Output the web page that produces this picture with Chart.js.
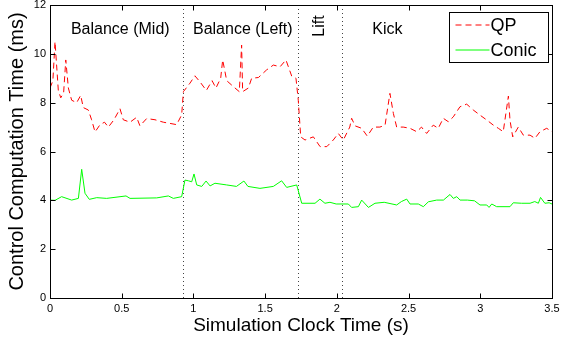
<!DOCTYPE html>
<html>
<head>
<meta charset="utf-8">
<script src="https://cdn.jsdelivr.net/npm/chart.js@4"></script>
<style>
  body { margin: 0; background: #fff; }
  #wrap { width: 561px; height: 339px; }
</style>
</head>
<body>
<div id="wrap"><canvas id="grafico"></canvas></div>
<script>
// QP solver timing (ms) against simulation clock time (s)
const qpTime = [0, 0.02, 0.035, 0.058, 0.075, 0.095, 0.11, 0.128, 0.151, 0.186, 0.214, 0.232, 0.267, 0.29, 0.314, 0.349, 0.38, 0.407, 0.446, 0.488, 0.511, 0.558, 0.604, 0.627, 0.674, 0.732, 0.79, 0.837, 0.883, 0.918, 0.93, 0.976, 1.01, 1.046, 1.09, 1.13, 1.157, 1.19, 1.204, 1.232, 1.28, 1.32, 1.336, 1.343, 1.383, 1.406, 1.453, 1.51, 1.557, 1.604, 1.645, 1.662, 1.685, 1.715, 1.731, 1.748, 1.778, 1.836, 1.883, 1.93, 1.975, 2.01, 2.045, 2.09, 2.103, 2.127, 2.173, 2.212, 2.254, 2.3, 2.336, 2.37, 2.394, 2.417, 2.463, 2.51, 2.557, 2.59, 2.626, 2.672, 2.707, 2.742, 2.777, 2.812, 2.858, 2.905, 2.951, 2.998, 3.045, 3.091, 3.126, 3.16, 3.196, 3.207, 3.226, 3.265, 3.3, 3.347, 3.381, 3.416, 3.463, 3.5];
const qpMs = [8.6, 8.9, 10.5, 8.5, 8.2, 8.4, 9.75, 8.6, 8.1, 8.0, 8.3, 7.8, 7.7, 7.3, 6.8, 7.1, 7.2, 7.0, 7.3, 7.75, 7.3, 7.2, 7.4, 7.05, 7.35, 7.3, 7.2, 7.15, 7.1, 7.5, 8.45, 8.8, 9.1, 8.85, 8.5, 8.9, 8.6, 9.0, 9.75, 8.9, 8.65, 8.45, 10.36, 8.45, 8.6, 9.0, 9.03, 9.34, 9.54, 9.47, 9.75, 9.47, 9.09, 9.0, 8.1, 6.6, 6.47, 6.6, 6.2, 6.2, 6.47, 6.74, 6.47, 7.0, 7.36, 7.05, 6.95, 6.63, 7.0, 7.0, 7.08, 8.38, 7.56, 7.0, 7.0, 6.95, 6.81, 7.0, 6.74, 7.08, 6.95, 7.36, 7.22, 7.42, 7.83, 7.94, 7.7, 7.49, 7.29, 7.08, 6.95, 6.81, 8.27, 7.29, 6.6, 7.0, 6.67, 6.67, 6.54, 6.81, 6.95, 6.81];

// Conic solver timing (ms)
const conicTime = [0, 0.035, 0.081, 0.151, 0.198, 0.221, 0.244, 0.274, 0.326, 0.395, 0.53, 0.558, 0.744, 0.825, 0.86, 0.918, 0.941, 0.965, 0.988, 1.004, 1.023, 1.058, 1.088, 1.116, 1.15, 1.232, 1.3, 1.352, 1.38, 1.464, 1.557, 1.615, 1.65, 1.72, 1.755, 1.848, 1.882, 1.917, 1.952, 1.995, 2.08, 2.103, 2.15, 2.173, 2.22, 2.266, 2.33, 2.417, 2.45, 2.487, 2.51, 2.568, 2.603, 2.638, 2.696, 2.743, 2.789, 2.812, 2.836, 2.859, 2.91, 2.96, 2.998, 3.045, 3.061, 3.08, 3.114, 3.207, 3.23, 3.288, 3.347, 3.38, 3.405, 3.42, 3.45, 3.48, 3.5];
const conicMs = [4.01, 4.0, 4.15, 4.01, 4.08, 5.27, 4.29, 4.04, 4.11, 4.08, 4.18, 4.08, 4.1, 4.18, 4.08, 4.15, 4.83, 4.8, 4.76, 5.08, 4.63, 4.57, 4.79, 4.59, 4.7, 4.63, 4.57, 4.79, 4.57, 4.49, 4.57, 4.8, 4.53, 4.63, 3.88, 3.88, 4.05, 3.88, 3.92, 3.85, 3.85, 3.71, 3.74, 4.01, 3.71, 3.88, 3.92, 3.81, 3.95, 4.05, 3.85, 3.85, 3.74, 3.94, 4.01, 4.01, 4.24, 4.08, 4.15, 4.01, 4.01, 3.98, 3.81, 3.81, 3.71, 3.85, 3.74, 3.74, 3.9, 3.88, 3.88, 3.95, 3.88, 4.12, 3.88, 3.9, 3.85];

// phases of the motion
const phaseBounds = [0.925, 1.727, 2.036];
const phaseNames = ['Balance (Mid)', 'Balance (Left)', 'Lift', 'Kick'];
const phaseLabelTimes = [0.49, 1.344, 1.88, 2.353];

const xTicks = [0, 0.5, 1, 1.5, 2, 2.5, 3, 3.5];
const yTicks = [0, 2, 4, 6, 8, 10, 12];

const FONT = "'Liberation Sans', Arial, sans-serif";

function pts(xs, ys) {
  return xs.map((x, i) => ({ x: x, y: ys[i] }));
}

// matlab style box, inner ticks, phase markers and legend
const matlabLook = {
  id: 'matlabLook',
  beforeDatasetsDraw(chart) {
    const { ctx, chartArea: a, scales: { x } } = chart;
    ctx.save();
    ctx.strokeStyle = '#444';
    ctx.lineWidth = 1;
    ctx.setLineDash([1, 3]);
    phaseBounds.forEach(t => {
      const px = Math.round(x.getPixelForValue(t)) + 0.5;
      ctx.beginPath();
      ctx.moveTo(px, a.top);
      ctx.lineTo(px, a.bottom);
      ctx.stroke();
    });
    ctx.setLineDash([]);
    ctx.fillStyle = '#000';
    ctx.font = '16px ' + FONT;
    ctx.textAlign = 'center';
    ctx.textBaseline = 'middle';
    phaseNames.forEach((name, i) => {
      const px = x.getPixelForValue(phaseLabelTimes[i]);
      if (name === 'Lift') {
        ctx.save();
        ctx.translate(px, a.top + 21);
        ctx.rotate(-Math.PI / 2);
        ctx.fillText(name, 0, 0);
        ctx.restore();
      } else {
        ctx.fillText(name, px, a.top + 25);
      }
    });
    ctx.restore();
  },
  afterDraw(chart) {
    const { ctx, chartArea: a, scales: { x, y } } = chart;
    const L = Math.round(a.left) + 0.5, R = Math.round(a.right) + 0.5;
    const T = Math.round(a.top) + 0.5, B = Math.round(a.bottom) + 0.5;
    ctx.save();
    ctx.strokeStyle = '#000';
    ctx.lineWidth = 1;
    ctx.strokeRect(L, T, R - L, B - T);
    ctx.beginPath();
    xTicks.forEach(v => {
      const px = Math.round(x.getPixelForValue(v)) + 0.5;
      ctx.moveTo(px, B); ctx.lineTo(px, B - 5);
      ctx.moveTo(px, T); ctx.lineTo(px, T + 5);
    });
    yTicks.forEach(v => {
      const py = Math.round(y.getPixelForValue(v)) + 0.5;
      ctx.moveTo(L, py); ctx.lineTo(L + 5, py);
      ctx.moveTo(R, py); ctx.lineTo(R - 5, py);
    });
    ctx.stroke();

    // legend box
    const lx = 449.5, ly = 12.5, lw = 99, lh = 50;
    ctx.fillStyle = '#fff';
    ctx.fillRect(lx, ly, lw, lh);
    ctx.strokeStyle = '#000';
    ctx.strokeRect(lx, ly, lw, lh);
    ctx.font = '18px ' + FONT;
    ctx.textAlign = 'left';
    ctx.textBaseline = 'middle';
    chart.data.datasets.forEach((ds, i) => {
      const cy = ly + 12.5 + i * 25;
      ctx.save();
      ctx.strokeStyle = ds.borderColor;
      ctx.lineWidth = 1;
      ctx.setLineDash(ds.borderDash || []);
      ctx.beginPath();
      ctx.moveTo(lx + 6, cy);
      ctx.lineTo(lx + 40, cy);
      ctx.stroke();
      ctx.restore();
      ctx.fillStyle = '#000';
      ctx.fillText(ds.label, lx + 41, cy + 1);
    });
    ctx.restore();
  }
};

const grafico = document.getElementById('grafico');

new Chart(grafico, {
  type: 'line',
  data: {
    datasets: [{
      label: 'QP',
      data: pts(qpTime, qpMs),
      borderColor: '#ff0000',
      borderWidth: 1,
      borderDash: [6, 4],
      pointRadius: 0,
      tension: 0,
      fill: false
    }, {
      label: 'Conic',
      data: pts(conicTime, conicMs),
      borderColor: '#00ff00',
      borderWidth: 1,
      pointRadius: 0,
      tension: 0,
      fill: false
    }]
  },
  options: {
    responsive: true,
    maintainAspectRatio: false,
    animation: false,
    layout: { padding: { left: 0, top: 5, right: 9, bottom: 0 } },
    plugins: {
      legend: { display: false },
      tooltip: { enabled: false }
    },
    scales: {
      x: {
        type: 'linear',
        min: 0,
        max: 3.5,
        afterFit(scale) { scale.height = 41; scale.paddingLeft = 0; scale.paddingRight = 0; },
        afterBuildTicks(scale) { scale.ticks = xTicks.map(v => ({ value: v })); },
        grid: { display: false, drawTicks: false },
        border: { display: false },
        ticks: {
          color: '#000', padding: 4, maxRotation: 0,
          font: { family: FONT, size: 11 },
          callback: v => String(v)
        },
        title: { display: true, text: 'Simulation Clock Time (s)', color: '#000', padding: { top: 0, bottom: 2 }, font: { family: FONT, size: 19 } }
      },
      y: {
        min: 0,
        max: 12,
        afterFit(scale) { scale.width = 50; scale.paddingTop = 0; scale.paddingBottom = 0; },
        afterBuildTicks(scale) { scale.ticks = yTicks.map(v => ({ value: v })); },
        grid: { display: false, drawTicks: false },
        border: { display: false },
        ticks: { color: '#000', padding: 4, font: { family: FONT, size: 11 }, callback: v => String(v) },
        title: { display: true, text: 'Control Computation Time (ms)', color: '#000', padding: { top: 5, bottom: 0 }, font: { family: FONT, size: 20 } }
      }
    }
  },
  plugins: [matlabLook]
});
</script>
</body>
</html>
